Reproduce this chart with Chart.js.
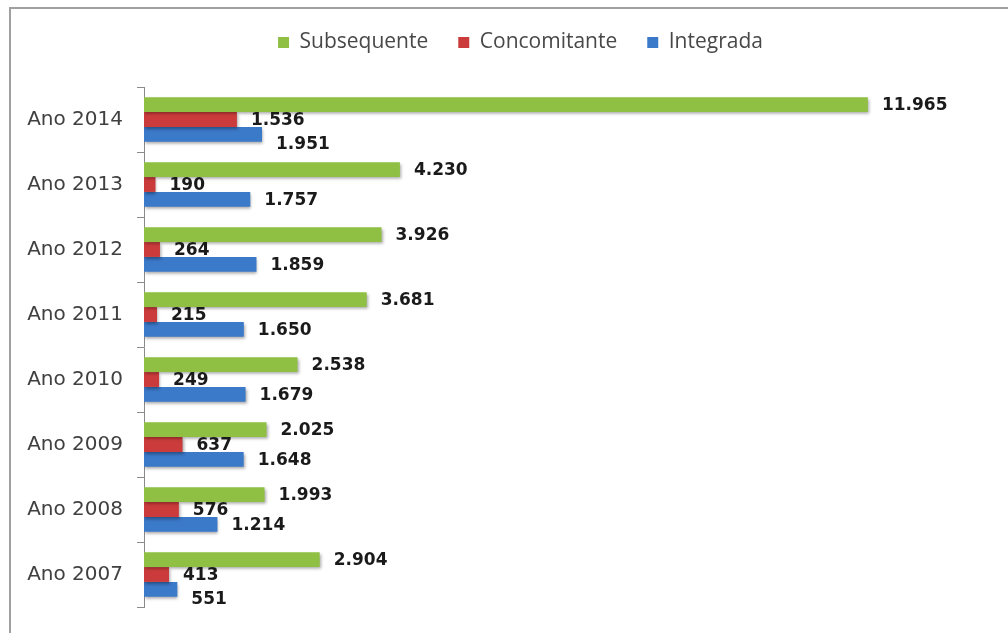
<!DOCTYPE html>
<html>
<head>
<meta charset="utf-8">
<script src="https://cdn.jsdelivr.net/npm/chart.js@4"></script>
<style>
    html, body { margin: 0; padding: 0; background: #fff; }
    #moldura {
        position: absolute; left: 9px; top: 7px; width: 1010px; height: 640px;
        border-left: 2px solid #a0a0a0; border-top: 2px solid #a0a0a0;
    }
    #grafico { position: absolute; left: 0; top: 0; }
</style>
</head>
<body>
<div id="moldura"></div>
<canvas id="grafico" width="1008" height="633"></canvas>
<script>
// dados do gráfico
const anos = ['Ano 2014', 'Ano 2013', 'Ano 2012', 'Ano 2011', 'Ano 2010', 'Ano 2009', 'Ano 2008', 'Ano 2007'];
const subsequente = [11965, 4230, 3926, 3681, 2538, 2025, 1993, 2904];
const concomitante = [1536, 190, 264, 215, 249, 637, 576, 413];
const integrada = [1951, 1757, 1859, 1650, 1679, 1648, 1214, 551];

const fonteRotulo = 'bold 17px "DejaVu Sans"';

// 11965 -> 11.965
function formatarNumero(v) {
    return String(v).replace(/\B(?=(\d{3})+(?!\d))/g, '.');
}

// sombra leve nas barras, como no Excel
const sombraBarras = {
    id: 'sombraBarras',
    beforeDatasetsDraw(chart) {
        const ctx = chart.ctx;
        ctx.save();
        ctx.shadowColor = 'rgba(0,0,0,0.35)';
        ctx.shadowBlur = 3;
        ctx.shadowOffsetX = 1;
        ctx.shadowOffsetY = 2;
    },
    afterDatasetsDraw(chart) {
        chart.ctx.restore();
    }
};

// rótulos de dados na ponta de cada barra
const rotulosDados = {
    id: 'rotulosDados',
    afterDatasetsDraw(chart) {
        const ctx = chart.ctx;
        ctx.save();
        ctx.font = fonteRotulo;
        ctx.fillStyle = '#1a1a1a';
        ctx.textBaseline = 'middle';
        ctx.textAlign = 'left';
        const alturaTexto = 15;
        anos.forEach((ano, i) => {
            let anterior = null;
            chart.data.datasets.forEach((ds, d) => {
                const barra = chart.getDatasetMeta(d).data[i];
                const texto = formatarNumero(ds.data[i]);
                const x = barra.x + 14;
                let y = barra.y + 1;
                const largura = ctx.measureText(texto).width;
                // empurra para baixo se bater no rótulo de cima
                if (anterior && x < anterior.x + anterior.w && x + largura > anterior.x &&
                    y - alturaTexto / 2 < anterior.y + alturaTexto / 2) {
                    y = anterior.y + alturaTexto + 9;
                }
                ctx.fillText(texto, x, y);
                anterior = { x: x, y: y, w: largura };
            });
        });
        ctx.restore();
    }
};

// altura fixa da legenda e centro deslocado para a direita
const ajusteLegenda = {
    id: 'ajusteLegenda',
    beforeInit(chart) {
        const fitOriginal = chart.legend.fit;
        chart.legend.fit = function() {
            fitOriginal.bind(chart.legend)();
            this.height = 85;
        };
    },
    afterLayout(chart) {
        chart.legend.left += 25;
        chart.legend.right += 25;
    }
};

new Chart(document.getElementById('grafico'), {
    type: 'bar',
    data: {
        labels: anos,
        datasets: [
            { label: 'Subsequente', data: subsequente, backgroundColor: '#8fc043' },
            { label: 'Concomitante', data: concomitante, backgroundColor: '#cb3b3b' },
            { label: 'Integrada', data: integrada, backgroundColor: '#3b79c9' }
        ]
    },
    options: {
        indexAxis: 'y',
        responsive: false,
        animation: false,
        categoryPercentage: 0.685,
        barPercentage: 1.0,
        layout: { padding: { top: 2, right: 17, bottom: 22, left: 0 } },
        plugins: {
            legend: {
                position: 'top',
                align: 'center',
                labels: {
                    boxWidth: 11,
                    boxHeight: 11,
                    padding: 30,
                    color: '#484848',
                    font: { family: '"Open Sans"', size: 21 }
                }
            },
            tooltip: { enabled: false }
        },
        scales: {
            x: {
                display: false,
                min: 0,
                max: 14000
            },
            y: {
                afterFit: axis => { axis.width = 144; },
                grid: {
                    display: true,
                    drawOnChartArea: false,
                    offset: true,
                    tickLength: 7,
                    color: '#8a8a8a',
                    lineWidth: 1
                },
                border: { display: true, color: '#8a8a8a', width: 1 },
                ticks: {
                    padding: 14,
                    color: '#404040',
                    font: { family: '"DejaVu Sans"', size: 20 }
                }
            }
        }
    },
    plugins: [sombraBarras, rotulosDados, ajusteLegenda]
});
</script>
</body>
</html>
